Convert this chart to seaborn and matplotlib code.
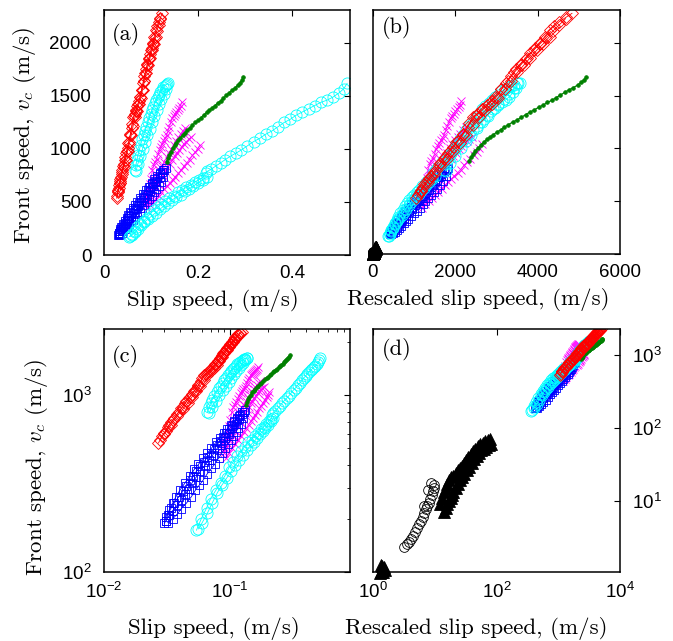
import numpy as np
import matplotlib
matplotlib.use("Agg")
import matplotlib.pyplot as plt
import seaborn as sns
from matplotlib.ticker import FixedLocator, FuncFormatter, NullFormatter, LogLocator, NullLocator

# ---------------- data (slip speed m/s, front speed m/s) ----------------
# red diamonds
R1_x = [0.027,0.029,0.031,0.033,0.035,0.038,0.041,0.044,0.047,0.050,0.053,0.056,0.059,0.062,0.065,0.068,0.071,0.074,0.077,0.080,0.083,0.086,0.089,0.092,0.095,0.098,0.101,0.104,0.107,0.110,0.113,0.116,0.120,0.124]
R1_y = [535,590,630,680,720,780,840,900,960,1010,1070,1130,1200,1300,1330,1370,1410,1450,1490,1560,1620,1690,1750,1800,1850,1900,1950,2000,2060,2120,2160,2200,2240,2280]
R2_x = [0.030,0.034,0.038,0.042,0.046,0.050,0.054,0.058,0.062,0.066,0.070,0.074,0.078,0.082,0.086,0.090,0.094,0.098,0.102,0.106,0.110]
R2_y = [600,680,760,830,900,980,1050,1130,1220,1300,1360,1420,1480,1560,1640,1720,1790,1860,1930,1990,2060]
R3_x = [0.028,0.030,0.032,0.034,0.036,0.039,0.042,0.045,0.048,0.052,0.056,0.060,0.064,0.068,0.072,0.076,0.080,0.084,0.088,0.092,0.096,0.100,0.104,0.108,0.112,0.116,0.120]
R3_y = [560,610,660,700,740,800,860,920,980,1060,1140,1240,1310,1360,1420,1490,1560,1640,1720,1790,1860,1930,1990,2050,2110,2170,2230]
# cyan circles, steep runs
C1_x = [0.066,0.068,0.070,0.072,0.075,0.078,0.081,0.084,0.087,0.090,0.093,0.096,0.099,0.102,0.105,0.108,0.111,0.114,0.117,0.120,0.123,0.126,0.129,0.132,0.135,0.137]
C1_y = [800,850,900,940,990,1040,1090,1130,1170,1210,1250,1290,1330,1370,1400,1430,1460,1490,1510,1540,1560,1580,1595,1605,1615,1623]
C1b_x = [0.068,0.072,0.077,0.082,0.087,0.092,0.097,0.102,0.107,0.112,0.117,0.122,0.127,0.132]
C1b_y = [790,860,930,1000,1070,1130,1190,1250,1310,1370,1420,1470,1520,1570]
# cyan circles, shallow runs
C2_x = [0.054,0.059,0.065,0.070,0.077,0.084,0.091,0.098,0.106,0.114,0.122,0.130,0.139,0.148,0.157,0.166,0.175,0.184,0.193,0.202,0.210,0.216,0.220,0.228,0.238,0.248,0.258,0.268,0.280,0.292,0.305,0.318,0.331,0.344,0.357,0.370,0.383,0.396,0.409,0.422,0.435,0.448,0.461,0.474,0.487,0.500,0.510,0.517]
C2_y = [172,200,230,260,290,320,350,390,420,450,480,510,540,560,590,610,640,660,690,710,730,770,790,810,840,870,900,930,960,990,1030,1070,1100,1140,1170,1210,1250,1280,1320,1350,1380,1410,1440,1460,1490,1530,1570,1620]
C3_x = [0.056,0.060,0.066,0.072,0.079,0.086,0.094,0.102,0.110,0.118,0.127,0.136,0.145,0.154,0.163,0.172,0.181,0.190,0.200,0.210,0.220]
C3_y = [175,190,215,245,280,310,340,370,400,430,460,490,520,545,570,600,625,650,680,710,740]
# blue squares
B1_x = [0.030,0.031,0.032,0.034,0.036,0.039,0.042,0.045,0.048,0.051,0.054,0.058,0.062,0.066,0.070,0.074,0.078,0.083,0.088,0.093,0.098,0.103,0.108,0.113,0.118,0.123,0.128,0.131]
B1_y = [188,195,210,230,245,265,285,305,330,350,370,395,420,445,470,495,520,550,580,610,640,670,700,730,760,785,805,818]
B2_x = [0.032,0.035,0.038,0.041,0.045,0.049,0.053,0.057,0.061,0.066,0.071,0.076,0.081,0.086,0.091,0.096,0.101,0.106,0.111,0.116,0.121,0.126]
B2_y = [190,200,212,228,245,265,290,310,330,360,385,410,440,470,500,530,560,590,620,650,690,740]
B3_x = [0.031,0.033,0.035,0.037,0.040,0.044,0.048,0.052,0.056,0.061,0.066,0.071,0.077,0.083,0.089,0.095,0.101,0.107,0.113,0.119,0.125]
B3_y = [205,225,245,265,290,320,350,380,405,440,470,500,540,575,610,645,680,715,745,775,800]
B4_x = [0.031,0.033,0.035,0.038,0.041,0.044,0.047,0.050,0.054,0.058,0.063,0.068,0.073,0.079,0.085,0.091,0.097,0.104,0.111,0.118]
B4_y = [195,210,222,238,255,275,295,320,345,370,400,430,460,500,535,570,605,650,690,735]
# magenta crosses
M1_x = [0.085,0.088,0.091,0.094,0.097,0.100,0.103,0.106,0.109,0.112,0.115,0.118,0.121,0.124,0.127,0.130,0.133,0.136,0.139,0.142,0.145,0.148,0.151,0.154,0.157,0.160,0.163,0.165]
M1_y = [500,540,580,620,670,720,800,850,880,910,950,990,1020,1050,1080,1100,1130,1170,1210,1250,1290,1310,1330,1350,1370,1390,1410,1446]
M2_x = [0.090,0.095,0.100,0.105,0.110,0.115,0.120,0.125,0.130,0.135,0.140,0.145,0.150,0.155,0.160,0.165,0.170,0.175,0.180,0.185]
M2_y = [470,510,550,590,630,670,710,750,790,830,860,900,930,960,990,1020,1050,1070,1090,1110]
M3_x = [0.092,0.098,0.104,0.110,0.116,0.122,0.128,0.134,0.140,0.146,0.152,0.158,0.164,0.170,0.176,0.182,0.188,0.194,0.199,0.204]
M3_y = [440,470,500,530,560,590,620,650,680,710,740,770,800,840,870,900,940,970,1000,1038]
M4_x = [0.088,0.093,0.098,0.103,0.108,0.113,0.118,0.123,0.128,0.133,0.138,0.143,0.148,0.153,0.158,0.163,0.168,0.173]
M4_y = [490,540,590,640,690,740,790,840,880,920,960,1000,1040,1080,1110,1140,1170,1200]
# green dots
G_x = [0.133,0.136,0.139,0.142,0.146,0.150,0.154,0.158,0.162,0.167,0.172,0.177,0.182,0.188,0.194,0.200,0.206,0.212,0.218,0.224,0.230,0.236,0.242,0.248,0.254,0.260,0.266,0.272,0.278,0.284,0.289,0.293,0.296]
G_y = [880,915,945,975,1005,1035,1060,1085,1105,1130,1155,1175,1200,1225,1250,1270,1295,1320,1345,1365,1390,1410,1435,1455,1480,1505,1530,1555,1575,1600,1625,1650,1676]

# rescaling factors (rescaled slip speed / slip speed) per colour group
scale_red = 39000
scale_cyan_steep = 26000
scale_cyan_shallow = 6800
scale_blue = 14000
scale_magenta = 13000
scale_green = 17500

# black data (rescaled slip speed, front speed) shown only in (b),(d)
K_x = [3.2,3.5,3.8,4.1,4.4,4.8,5.2,5.6,6.0,6.4,6.8,7.2,7.6,8.0,8.5,9.0,9.3,9.6,9.9,8.8,7.8,6.6]
K_y = [2.3,2.5,2.7,3.0,3.3,3.7,4.2,4.7,5.3,6.0,6.8,7.6,8.5,9.3,10.5,12,13.5,15,16.5,17.5,14,8.5]
T0_x = [1.30,1.35,1.40,1.45,1.50,1.40,1.35,1.45,1.55]
T0_y = [1.00,1.05,1.10,1.15,1.20,1.25,1.30,1.05,1.10]
T1_x = [12,13,14,15,16,17,18,20,22,24,26,28,30,32,35,38,41,45,50,55,60,66,72,78]
T1_y = [9,11,13,15,17,19,21,22,24,26,28,30,33,36,40,44,48,52,56,60,63,66,68,70]
T2_x = [14,15,16,17,18,19,20,22,24,26,28,30,33,36,40,44,48,52,56,62,68,75,82]
T2_y = [7,8,9,10,11,12,13,15,17,19,21,23,26,29,33,37,41,45,49,52,55,58,60]

# ---------------- styles ----------------
RED, CYAN, BLUE, MAG, GREEN = "#ff0000", "#00ffff", "#0000ff", "#ff00ff", "#008000"
st_red = dict(c=RED, m="D", ms=6, fc="none", lw=0.6, ls="-")
st_cyan = dict(c=CYAN, m="o", ms=8, fc="none", lw=0.6, ls="-")
st_blue = dict(c=BLUE, m="s", ms=6, fc="none", lw=0.6, ls="-")
st_mag = dict(c=MAG, m="x", ms=6, fc="none", lw=0.6, ls="-")
st_green = dict(c=GREEN, m="o", ms=2.6, fc=GREEN, lw=0.9, ls="-")
st_kc = dict(c="black", m="o", ms=7, fc="none", lw=0.6, ls="none")
st_kt = dict(c="black", m="^", ms=8, fc="black", lw=0.6, ls="none")

colored = [
    (M1_x, M1_y, scale_magenta, st_mag),
    (M2_x, M2_y, scale_magenta, st_mag),
    (M3_x, M3_y, scale_magenta, st_mag),
    (M4_x, M4_y, scale_magenta, st_mag),
    (B1_x, B1_y, scale_blue, st_blue),
    (B2_x, B2_y, scale_blue, st_blue),
    (B3_x, B3_y, scale_blue, st_blue),
    (B4_x, B4_y, scale_blue, st_blue),
    (C2_x, C2_y, scale_cyan_shallow, st_cyan),
    (C3_x, C3_y, scale_cyan_shallow, st_cyan),
    (C1_x, C1_y, scale_cyan_steep, st_cyan),
    (C1b_x, C1b_y, scale_cyan_steep, st_cyan),
    (G_x, G_y, scale_green, st_green),
    (R1_x, R1_y, scale_red, st_red),
    (R2_x, R2_y, scale_red, st_red),
    (R3_x, R3_y, scale_red, st_red),
]
black = [(K_x, K_y, st_kc), (T0_x, T0_y, st_kt), (T1_x, T1_y, st_kt), (T2_x, T2_y, st_kt)]

# ---------------- figure ----------------
sns.set_theme(style="white")
plt.rcParams.update({
    "font.family": ["Liberation Sans", "DejaVu Sans"],
    "mathtext.fontset": "custom",
    "mathtext.rm": "cmr10",
    "mathtext.it": "cmmi10",
    "mathtext.sf": "Liberation Sans",
    "text.color": "black",
    "axes.labelcolor": "black",
    "xtick.color": "black",
    "ytick.color": "black",
    "axes.edgecolor": "black",
    "axes.linewidth": 1.1,
    "figure.facecolor": "white",
    "axes.facecolor": "white",
})

W, H = 673, 641
fig = plt.figure(figsize=(W / 100, H / 100), dpi=100)


def box(l, t, r, b):
    return [l / W, 1 - b / H, (r - l) / W, (b - t) / H]


ax_a = fig.add_axes(box(104, 10, 350, 255))
ax_b = fig.add_axes(box(373, 10, 620, 254))
ax_c = fig.add_axes(box(104, 329, 350, 572))
ax_d = fig.add_axes(box(373, 329, 620, 572))


def draw(ax, x, y, st, clip=True):
    sns.lineplot(x=list(x), y=list(y), ax=ax, sort=False, estimator=None,
                 color=st["c"], marker=st["m"], markersize=st["ms"],
                 markerfacecolor=st["fc"], markeredgecolor=st["c"],
                 markeredgewidth=0.6, linewidth=st["lw"], linestyle=st["ls"],
                 clip_on=clip)


for ax in (ax_a, ax_c):
    for x, y, f, st in colored:
        draw(ax, x, y, st)
for ax in (ax_b, ax_d):
    for x, y, f, st in colored:
        draw(ax, np.asarray(x) * f, y, st)
    for x, y, st in black:
        draw(ax, x, y, st, clip=False)

labfont = dict(family="cmr10", size=16.5)
ylab = "Front speed, $v_c$ (m/s)"
xlab1 = "Slip speed, (m/s)"
xlab2 = "Rescaled slip speed, (m/s)"

logfmt = FuncFormatter(lambda v, p: r"$\mathsf{10^{%d}}$" % int(round(np.log10(v))))

# (a)
ax_a.set_xlim(0, 0.523)
ax_a.set_ylim(0, 2311)
ax_a.xaxis.set_major_locator(FixedLocator([0, 0.2, 0.4]))
ax_a.xaxis.set_major_formatter(FuncFormatter(lambda v, p: "0" if v == 0 else "%g" % v))
ax_a.yaxis.set_major_locator(FixedLocator([0, 500, 1000, 1500, 2000]))
# (b)
ax_b.set_xlim(0, 6000)
ax_b.set_ylim(0, 2311)
ax_b.xaxis.set_major_locator(FixedLocator([0, 2000, 4000, 6000]))
ax_b.yaxis.set_major_locator(FixedLocator([0, 500, 1000, 1500, 2000]))
# (c)
ax_c.set_xscale("log")
ax_c.set_yscale("log")
ax_c.set_xlim(0.01, 0.89)
ax_c.set_ylim(100, 2360)
ax_c.xaxis.set_major_locator(FixedLocator([0.01, 0.1]))
ax_c.xaxis.set_minor_locator(LogLocator(base=10, subs=np.arange(2, 10)))
ax_c.yaxis.set_major_locator(FixedLocator([100, 1000]))
ax_c.yaxis.set_minor_locator(LogLocator(base=10, subs=np.arange(2, 10)))
for a in (ax_c.xaxis, ax_c.yaxis):
    a.set_major_formatter(logfmt)
    a.set_minor_formatter(NullFormatter())
# (d)
ax_d.set_xscale("log")
ax_d.set_yscale("log")
ax_d.set_xlim(1, 10000)
ax_d.set_ylim(1.04, 2300)
ax_d.xaxis.set_major_locator(FixedLocator([1, 100, 10000]))
ax_d.xaxis.set_minor_locator(NullLocator())
ax_d.yaxis.set_major_locator(FixedLocator([10, 100, 1000]))
ax_d.yaxis.set_minor_locator(NullLocator())
for a in (ax_d.xaxis, ax_d.yaxis):
    a.set_major_formatter(logfmt)

for ax in (ax_a, ax_b, ax_c, ax_d):
    ax.tick_params(which="major", direction="in", top=True, right=True,
                   length=4, width=0.8, labelsize=13.5)
    ax.tick_params(which="minor", direction="in", top=True, right=True,
                   length=2, width=0.6)
    ax.tick_params(axis="y", pad=9)
    ax.tick_params(axis="x", pad=7)
    for s in ax.spines.values():
        s.set_visible(True)
        s.set_color("black")
    ax.set_xlabel("")
    ax.set_ylabel("")

ax_b.tick_params(labelleft=False)
ax_d.tick_params(labelleft=False, labelright=True)

ax_a.set_ylabel(ylab, fontdict=labfont)
ax_a.yaxis.set_label_coords(-0.268, 0.49)
ax_c.set_ylabel(ylab, fontdict=labfont)
ax_c.yaxis.set_label_coords(-0.22, 0.43)

ax_a.set_xlabel(xlab1, fontdict=labfont)
ax_a.xaxis.set_label_coords(0.443, -0.14)
ax_b.set_xlabel(xlab2, fontdict=labfont)
ax_b.xaxis.set_label_coords(0.425, -0.14)
ax_c.set_xlabel(xlab1, fontdict=labfont)
ax_c.xaxis.set_label_coords(0.445, -0.185)
ax_d.set_xlabel(xlab2, fontdict=labfont)
ax_d.xaxis.set_label_coords(0.418, -0.185)

pl = dict(family="cmr10", size=16, va="top", ha="left")
ax_a.text(0.033, 0.945, "(a)", transform=ax_a.transAxes, **pl)
ax_b.text(0.035, 0.975, "(b)", transform=ax_b.transAxes, **pl)
ax_c.text(0.031, 0.935, "(c)", transform=ax_c.transAxes, **pl)
ax_d.text(0.035, 0.965, "(d)", transform=ax_d.transAxes, **pl)

fig.savefig("out.png", dpi=100)
